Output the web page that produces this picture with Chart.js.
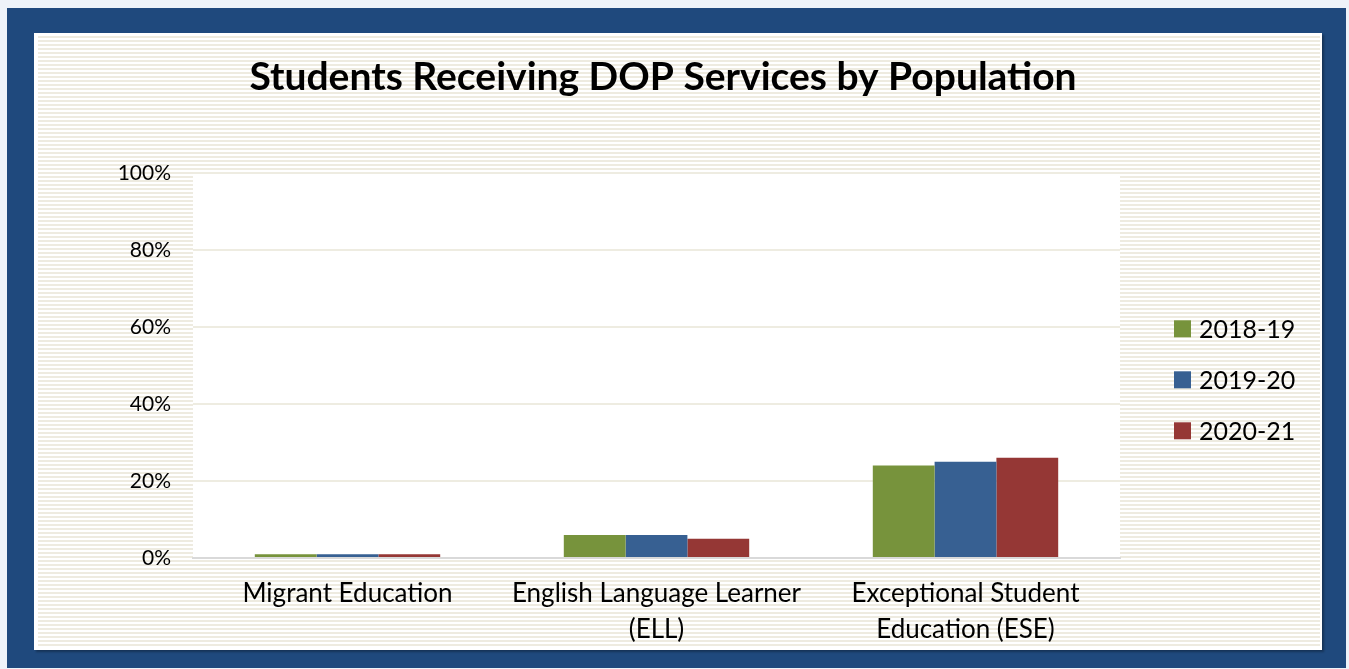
<!DOCTYPE html>
<html><head><meta charset="utf-8">
<script src="https://cdn.jsdelivr.net/npm/chart.js@4.4.0/dist/chart.umd.min.js"></script>
<style>
html,body{margin:0;padding:0;background:#eef3f9;width:1349px;height:669px;overflow:hidden;}
#frame{position:absolute;left:7px;top:8px;width:1339px;height:660px;background:#1F497D;}
#panel{position:absolute;left:34px;top:33px;width:1288px;height:617px;background:#fff;box-shadow:2px 2px 2px rgba(0,0,0,0.3);}
#stripes{position:absolute;left:38px;top:36px;width:1282px;height:611px;background:repeating-linear-gradient(to bottom,#EEEBE0 0px,#EEEBE0 2px,#ffffff 2px,#ffffff 4px);}
#wrap{position:absolute;left:20px;top:33px;width:1286px;height:617px;}
</style></head>
<body>
<div id="frame"></div><div id="panel"></div><div id="stripes"></div>
<div id="wrap"><canvas id="c" width="1286" height="617"></canvas></div>
<script>
const chartTitle = 'Students Receiving DOP Services by Population';
const categories = ['Migrant Education', ['English Language Learner', '(ELL)'], ['Exceptional Student', 'Education (ESE)']];
const seriesNames = ['2018-19', '2019-20', '2020-21'];
const values2018_19 = [1, 6, 24];
const values2019_20 = [1, 6, 25];
const values2020_21 = [1, 5, 26];
const yTickValues = [0, 20, 40, 60, 80, 100];
const seriesColors = ['#77933C', '#376092', '#953735'];

const FONT = 'Lato, "Liberation Sans", sans-serif';

const plotBg = {
  id: 'plotBg',
  beforeDraw(chart) {
    const {ctx, chartArea: a} = chart;
    ctx.save();
    ctx.fillStyle = '#ffffff';
    ctx.fillRect(a.left, a.top, a.right - a.left, a.bottom - a.top);
    ctx.restore();
  }
};

const sideLegend = {
  id: 'sideLegend',
  afterDraw(chart, args, o) {
    const {ctx, chartArea: a} = chart;
    ctx.save();
    ctx.font = o.fontSize + 'px ' + FONT;
    ctx.textBaseline = 'middle';
    ctx.textAlign = 'left';
    chart.data.datasets.forEach((ds, i) => {
      const yc = a.top + o.firstOffset + i * o.spacing;
      const x = a.right + o.gap;
      ctx.fillStyle = ds.backgroundColor;
      ctx.fillRect(x, yc - o.box / 2, o.box, o.box);
      ctx.fillStyle = '#000';
      ctx.fillText(ds.label, x + o.box + o.textGap, yc + 1);
    });
    ctx.restore();
  }
};

const allValues = [values2018_19, values2019_20, values2020_21];

new Chart(document.getElementById('c'), {
  type: 'bar',
  data: {
    labels: categories,
    datasets: seriesNames.map((n, i) => ({
      label: n,
      data: allValues[i],
      yAxisID: 'y',
      backgroundColor: seriesColors[i],
      borderWidth: 0,
      categoryPercentage: 0.6,
      barPercentage: 1.0
    }))
  },
  plugins: [plotBg, sideLegend],
  options: {
    responsive: false,
    animation: false,
    events: [],
    layout: {padding: {left: 0, right: 0, top: 0, bottom: 0}},
    plugins: {
      legend: {display: false},
      tooltip: {enabled: false},
      title: {
        display: true,
        text: chartTitle,
        color: '#000',
        font: {family: FONT, size: 39, weight: 'bold', lineHeight: 1.2},
        padding: {top: 21, bottom: 72}
      },
      sideLegend: {fontSize: 25, box: 17, gap: 54, textGap: 8, firstOffset: 156, spacing: 51}
    },
    scales: {
      x: {
        grid: {display: false, drawTicks: false},
        border: {display: true, color: '#D9D9D9', width: 2},
        ticks: {color: '#000', font: {family: FONT, size: 26, lineHeight: 1.38}, padding: 18, maxRotation: 0, autoSkip: false},
        afterFit(s) { s.height = 92; }
      },
      y: {
        min: 0, max: 100,
        afterBuildTicks(s) { s.ticks = yTickValues.map(v => ({value: v})); },
        ticks: {color: '#000', font: {family: FONT, size: 21}, padding: 22, callback: v => v + '%'},
        grid: {color: c => (c.tick && c.tick.value === 0) ? '#D9D9D9' : '#EEECE1', lineWidth: 2, drawTicks: false},
        border: {display: false},
        afterFit(s) { s.width = 173; }
      },
      legendSpace: {
        type: 'linear',
        position: 'right',
        display: true,
        grid: {display: false, drawTicks: false},
        border: {display: false},
        ticks: {display: false},
        afterFit(s) { s.width = 186; }
      }
    }
  }
});
</script>
</body></html>
